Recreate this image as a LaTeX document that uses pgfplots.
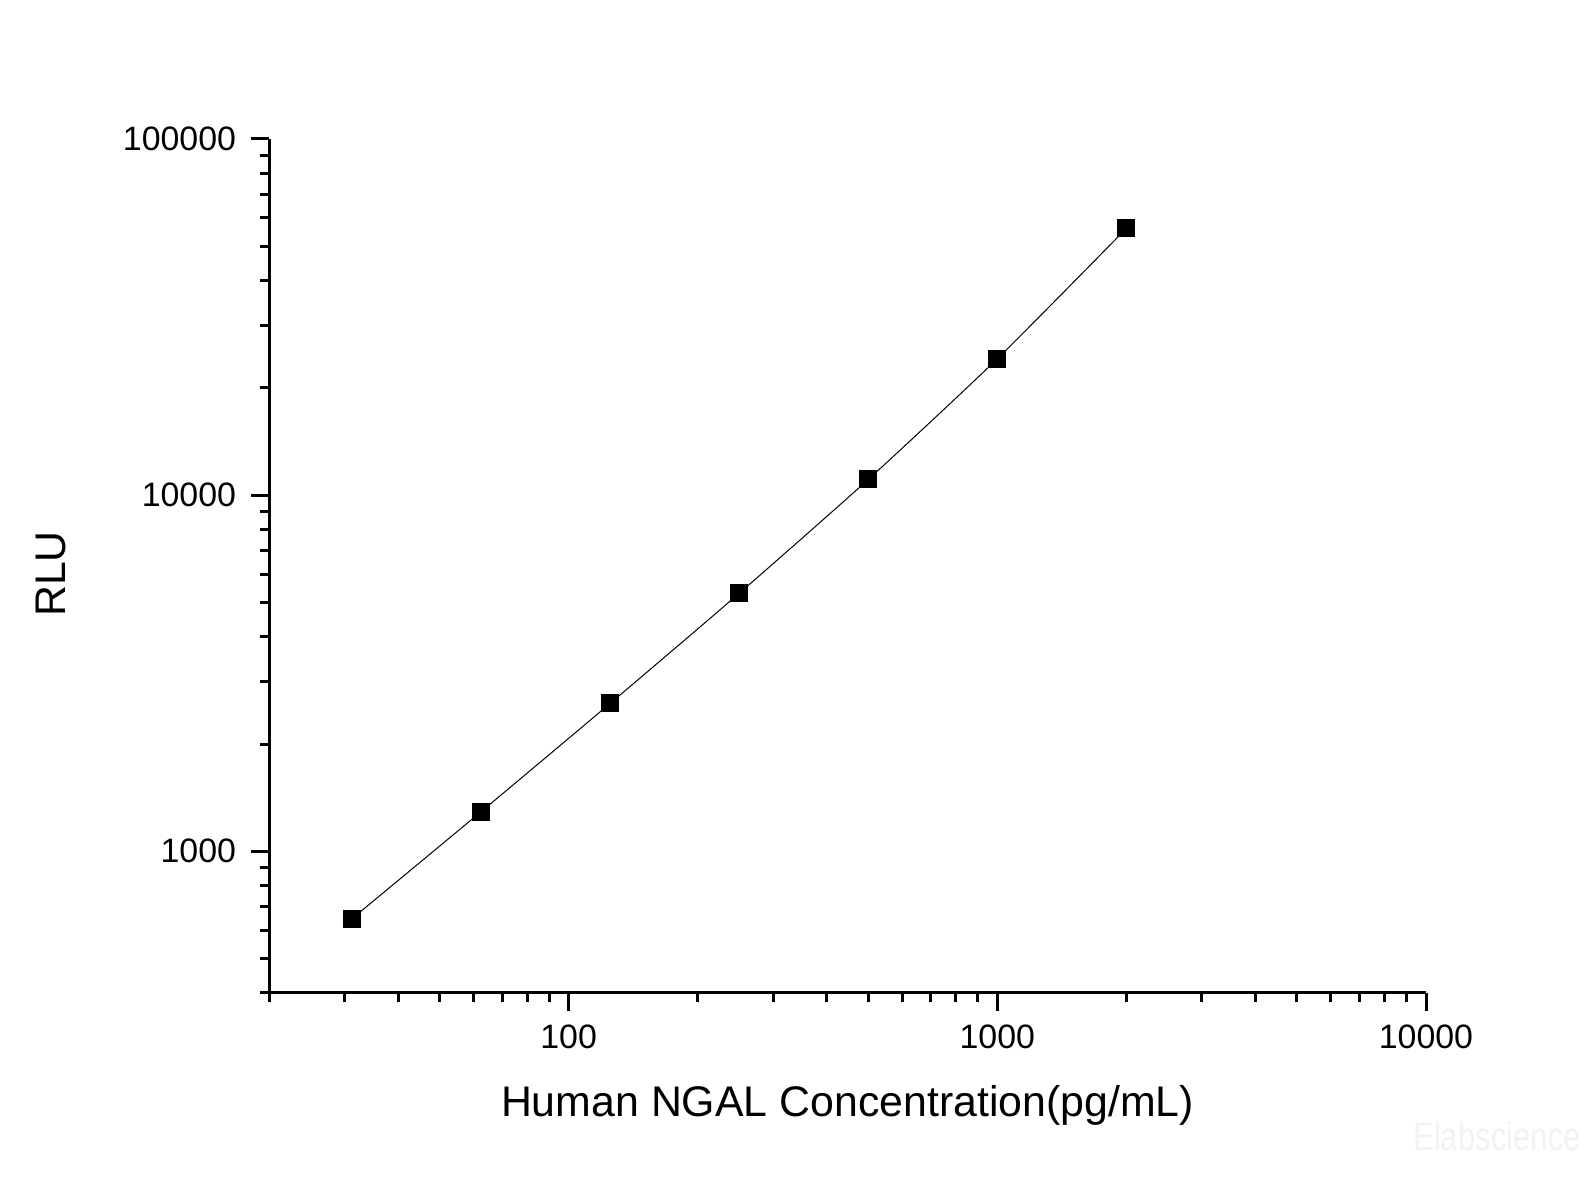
\documentclass[border=0pt]{standalone}
\usepackage{fontspec}
\setmainfont{Liberation Sans}
\usepackage{pgfplots}
\pgfplotsset{compat=1.18}

\begin{document}
\begin{tikzpicture}
\begin{axis}[%
  at={(134.5bp,98bp)}, anchor=south west,
  scale only axis,
  width=578.5bp, height=427bp,
  xmode=log, ymode=log,
  xmin=20, xmax=10000,
  ymin=400, ymax=100000,
  axis x line*=bottom, axis y line*=left,
  axis line style={line width=1.5bp},
  every tick/.style={black, line width=1.5bp},
  tick align=outside,
  major tick length=9bp, minor tick length=4.5bp,
  xtick={100,1000,10000}, xticklabels={100,1000,10000},
  ytick={1000,10000,100000}, yticklabels={1000,10000,100000},
  minor xtick={20,30,40,50,60,70,80,90,200,300,400,500,600,700,800,900,2000,3000,4000,5000,6000,7000,8000,9000},
  minor ytick={400,500,600,700,800,900,2000,3000,4000,5000,6000,7000,8000,9000,20000,30000,40000,50000,60000,70000,80000,90000},
  tick label style={font=\fontsize{17}{20}\selectfont},
  xticklabel style={yshift=-3.5bp},
  yticklabel style={xshift=-4bp},
  /pgf/number format/assume math mode=true,
  xlabel={Human NGAL Concentration(pg/mL)},
  ylabel={RLU},
  label style={font=\fontsize{21.5}{24}\selectfont},
  xlabel style={at={([yshift=-62bp]axis description cs:0.5,0)}, anchor=base},
  ylabel style={at={([xshift=-102bp,yshift=-4bp]axis description cs:0,0.5)}, anchor=base, rotate=0},
  clip=false,
]
\addplot[black, line width=0.5bp, smooth, tension=0.4,
  mark=square*, mark size=4.2bp, mark options={fill=black, line width=0pt}]
  coordinates {
  (31.25, 647)
  (62.5, 1292)
  (125, 2602)
  (250, 5302)
  (500, 11070)
  (1000, 24150)
  (2000, 56100)
};
\end{axis}
\node[anchor=base west, text=black!5, font=\fontsize{20}{24}\selectfont, inner sep=0pt, xscale=0.78]
  at (706.5bp,19.5bp) {Elabscience};
\pgfresetboundingbox
\useasboundingbox (0,0) rectangle (792.5bp,594.5bp);
\end{tikzpicture}
\end{document}
